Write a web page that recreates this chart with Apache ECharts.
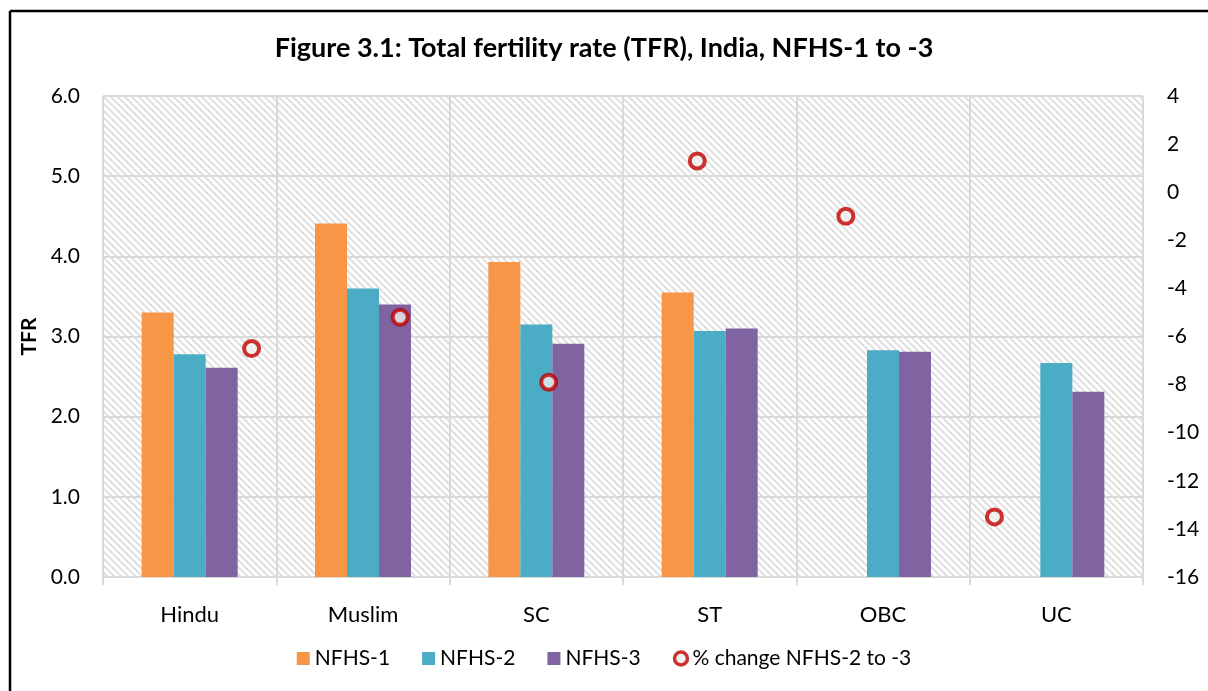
<!DOCTYPE html>
<html>
<head>
<meta charset="utf-8">
<style>
  html, body { margin: 0; padding: 0; background: #fff; }
  #chart { width: 1208px; height: 691px; }
</style>
<script src="https://cdn.jsdelivr.net/npm/echarts@6/dist/echarts.min.js"></script>
</head>
<body>
<div id="chart"></div>
<script>
const categories = ['Hindu', 'Muslim', 'SC', 'ST', 'OBC', 'UC']
const nfhs1 = [3.30, 4.41, 3.93, 3.55, null, null]
const nfhs2 = [2.78, 3.60, 3.15, 3.07, 2.83, 2.67]
const nfhs3 = [2.61, 3.40, 2.91, 3.10, 2.81, 2.31]
const pctChange = [-6.5, -5.2, -7.9, 1.3, -1.0, -13.5]
const pctX = [1, 2, 3, 4, 5, 6]

const FONT = 'Lato'

// diagonal hatch for the plot area
function hatch() {
  const s = 7
  const c = document.createElement('canvas')
  c.width = s
  c.height = s
  const ctx = c.getContext('2d')
  ctx.fillStyle = '#ffffff'
  ctx.fillRect(0, 0, s, s)
  ctx.strokeStyle = '#e0e0e0'
  ctx.lineWidth = 2
  ctx.beginPath()
  ctx.moveTo(-1, -1); ctx.lineTo(s + 1, s + 1)
  ctx.moveTo(-s - 1, -1); ctx.lineTo(1, s + 1)
  ctx.moveTo(s - 1, -1); ctx.lineTo(2 * s + 1, s + 1)
  ctx.stroke()
  return c
}

const chart = echarts.init(document.getElementById('chart'))

const option = {
  animation: false,
  textStyle: { fontFamily: FONT },
  title: {
    text: 'Figure 3.1: Total fertility rate (TFR), India, NFHS-1 to -3',
    left: 'center',
    top: 30,
    textStyle: { fontFamily: FONT, fontSize: 27, fontWeight: 'bold', color: '#000' }
  },
  legend: {
    bottom: 17,
    left: 'center',
    itemWidth: 13,
    itemHeight: 13,
    itemGap: 32,
    textStyle: { fontFamily: FONT, fontSize: 21, color: '#000' },
    data: [
      { name: 'NFHS-1', icon: 'rect' },
      { name: 'NFHS-2', icon: 'rect' },
      { name: 'NFHS-3', icon: 'rect' },
      { name: '% change NFHS-2 to -3', icon: 'circle', itemStyle: { borderWidth: 3.5 } }
    ]
  },
  grid: {
    left: 103,
    right: 65,
    top: 96,
    bottom: 114,
    show: true,
    borderWidth: 0,
    backgroundColor: { image: hatch(), repeat: 'repeat' }
  },
  xAxis: [
    {
      type: 'category',
      data: categories,
      axisLine: { lineStyle: { color: '#d9d9d9', width: 2 } },
      axisTick: { show: true, length: 8, lineStyle: { color: '#d9d9d9', width: 2 } },
      axisLabel: { fontSize: 22, color: '#000', margin: 27 },
      splitLine: { show: true, lineStyle: { color: '#d9d9d9', width: 2 } }
    },
    { type: 'value', min: 0, max: 7, show: false }
  ],
  yAxis: [
    {
      type: 'value',
      min: 0,
      max: 6,
      interval: 1,
      name: 'TFR',
      nameLocation: 'middle',
      nameRotate: 90,
      nameGap: 49,
      nameTextStyle: { fontFamily: FONT, fontSize: 21, fontWeight: 'bold', color: '#000' },
      axisLine: { show: false },
      axisTick: { show: false },
      axisLabel: { fontSize: 21, color: '#000', margin: 23, formatter: v => v.toFixed(1) },
      splitLine: { lineStyle: { color: '#d9d9d9', width: 2 } }
    },
    {
      type: 'value',
      min: -16,
      max: 4,
      interval: 2,
      axisLine: { show: false },
      axisTick: { show: false },
      axisLabel: { fontSize: 21, color: '#000', margin: 24 },
      splitLine: { show: false }
    }
  ],
  series: [
    { name: 'NFHS-1', type: 'bar', data: nfhs1, barWidth: 32, barGap: '0%', itemStyle: { color: '#f79646' } },
    { name: 'NFHS-2', type: 'bar', data: nfhs2, barWidth: 32, barGap: '0%', itemStyle: { color: '#4bacc6' } },
    { name: 'NFHS-3', type: 'bar', data: nfhs3, barWidth: 32, barGap: '0%', itemStyle: { color: '#8064a2' } },
    {
      name: '% change NFHS-2 to -3',
      type: 'scatter',
      xAxisIndex: 1,
      yAxisIndex: 1,
      data: pctX.map((x, i) => [x, pctChange[i]]),
      symbol: 'circle',
      symbolSize: 15,
      itemStyle: { color: '#efefef', borderColor: '#c00000', borderWidth: 4 },
      z: 5
    }
  ],
  graphic: [
    { type: 'line', shape: { x1: 10, y1: 11, x2: 10, y2: 691 }, style: { stroke: '#000', lineWidth: 2.5 } },
    { type: 'line', shape: { x1: 10, y1: 11, x2: 1208, y2: 11 }, style: { stroke: '#000', lineWidth: 2.5 } }
  ]
}

chart.setOption(option)
</script>
</body>
</html>
